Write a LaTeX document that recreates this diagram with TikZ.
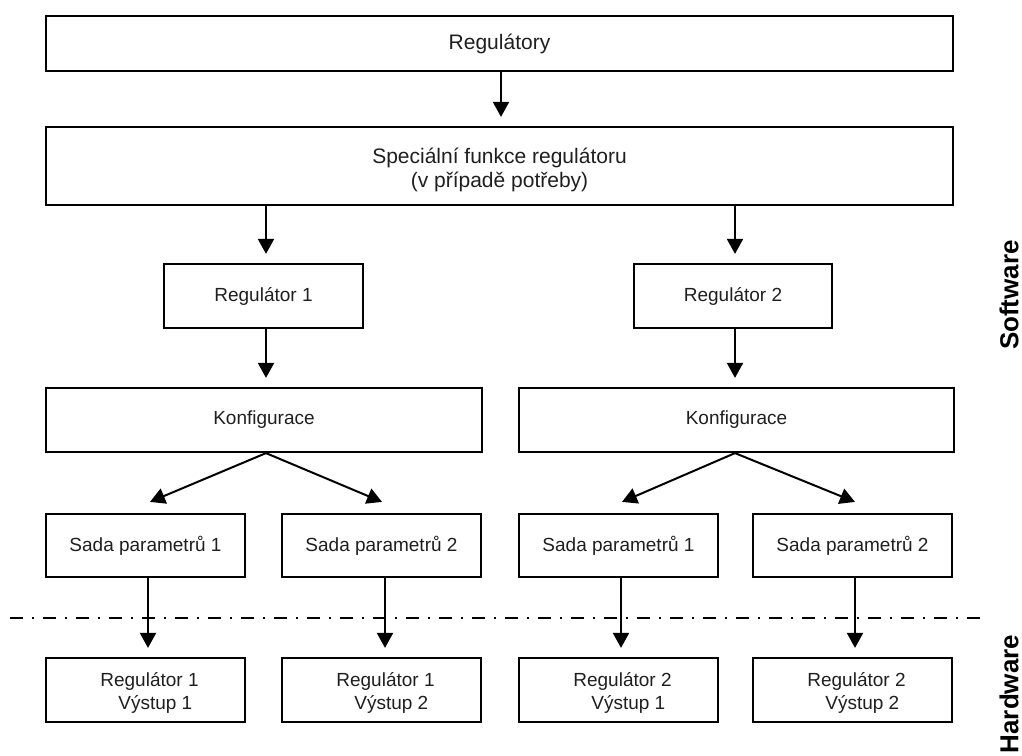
\documentclass[tikz,border=0pt]{standalone}
\usepackage{fontspec}
\setmainfont{Liberation Sans}
\usetikzlibrary{arrows.meta,calc}
\begin{document}
\begin{tikzpicture}[x=1pt,y=-1pt,
  box/.style={draw=black, line width=2.2pt, rectangle, inner sep=0pt, align=center,
    font=\fontsize{19}{23}\selectfont, text=black!88},
  bigbox/.style={box, font=\fontsize{21}{23.5}\selectfont},
  bigtext/.style={inner sep=0pt, align=center, font=\fontsize{21}{23.5}\selectfont, text=black!88},
  hwbox/.style={box, align=left},
  arr/.style={line width=2pt, -{Triangle[width=16pt,length=15pt]}, shorten >=9pt},
  diag/.style={line width=2pt, -{Triangle[width=16pt,length=15pt]}},
  sep/.style={line width=2pt, dash pattern=on 13pt off 9pt on 2pt off 9pt},
  side/.style={rotate=90, font=\bfseries\fontsize{26}{30}\selectfont, inner sep=0pt}]
\useasboundingbox (0,0) rectangle (1022,755);

% top
\node[bigbox, minimum width=907pt, minimum height=55pt] (reg) at (499.5,43.5) {Regulátory};
\node[bigbox, minimum width=907pt, minimum height=78pt] (spec) at (499.5,166) {};
\node[bigtext] (spectext) at ($(spec.center)+(0,4)$)
  {Speciální funkce regulátoru\\(v případě potřeby)};

% regulators
\node[box, minimum width=199pt, minimum height=64pt] (r1) at (263.5,296) {Regulátor 1};
\node[box, minimum width=198pt, minimum height=64pt] (r2) at (733,296) {Regulátor 2};

% configurations
\node[box, minimum width=436pt, minimum height=64pt] (k1) at (264,420) {Konfigurace};
\node[box, minimum width=435pt, minimum height=64pt] (k2) at (736.5,420) {Konfigurace};

% parameter sets
\node[box, minimum width=199pt, minimum height=63pt] (s1) at (145.5,545.5) {Sada parametrů 1};
\node[box, minimum width=199pt, minimum height=63pt] (s2) at (381.5,545.5) {Sada parametrů 2};
\node[box, minimum width=199pt, minimum height=63pt] (s3) at (618.5,545.5) {Sada parametrů 1};
\node[box, minimum width=199pt, minimum height=63pt] (s4) at (852.5,545.5) {Sada parametrů 2};

% hardware outputs
\node[hwbox, minimum width=199pt, minimum height=64pt] (h1) at (145.5,690)
  {\rule{0pt}{20pt}\hspace*{8pt}Regulátor 1\\\hspace*{26pt}Výstup 1};
\node[hwbox, minimum width=199pt, minimum height=64pt] (h2) at (381.5,690)
  {\rule{0pt}{20pt}\hspace*{8pt}Regulátor 1\\\hspace*{26pt}Výstup 2};
\node[hwbox, minimum width=199pt, minimum height=64pt] (h3) at (618.5,690)
  {\rule{0pt}{20pt}\hspace*{8pt}Regulátor 2\\\hspace*{26pt}Výstup 1};
\node[hwbox, minimum width=199pt, minimum height=64pt] (h4) at (852.5,690)
  {\rule{0pt}{20pt}\hspace*{8pt}Regulátor 2\\\hspace*{26pt}Výstup 2};

% side labels
\node[side] (sw) at (1009,295) {Software};
\node[side] (hw) at (1009,694) {Hardware};

% separator
\coordinate (sepL) at (10,618);
\coordinate (sepR) at (986,618);
\draw[sep] (sepL) -- (sepR);

% connectors
\draw[arr] ([xshift=1.5pt]reg.south) -- ([xshift=1.5pt]reg.south |- spec.north);
\draw[arr] ([xshift=2.5pt]r1.north |- spec.south) -- ([xshift=2.5pt]r1.north);
\draw[arr] ([xshift=2pt]r2.north |- spec.south) -- ([xshift=2pt]r2.north);
\draw[arr] ([xshift=2.5pt]r1.south) -- ([xshift=2.5pt]r1.south |- k1.north);
\draw[arr] ([xshift=2pt]r2.south) -- ([xshift=2pt]r2.south |- k2.north);

\draw[diag] ([xshift=2pt]k1.south) -- ($(s1.north)+(4.5,-11)$);
\draw[diag] ([xshift=2pt]k1.south) -- ($(s2.north)+(0.5,-11)$);
\draw[diag] ([xshift=-1.5pt]k2.south) -- ($(s3.north)+(3.5,-11)$);
\draw[diag] ([xshift=-1.5pt]k2.south) -- ($(s4.north)+(2.5,-11)$);

\draw[arr] ([xshift=2.5pt]s1.south) -- ([xshift=2.5pt]h1.north);
\draw[arr] ([xshift=3.5pt]s2.south) -- ([xshift=3.5pt]h2.north);
\draw[arr] ([xshift=2.5pt]s3.south) -- ([xshift=2.5pt]h3.north);
\draw[arr] ([xshift=2.5pt]s4.south) -- ([xshift=2.5pt]h4.north);
\end{tikzpicture}
\end{document}
